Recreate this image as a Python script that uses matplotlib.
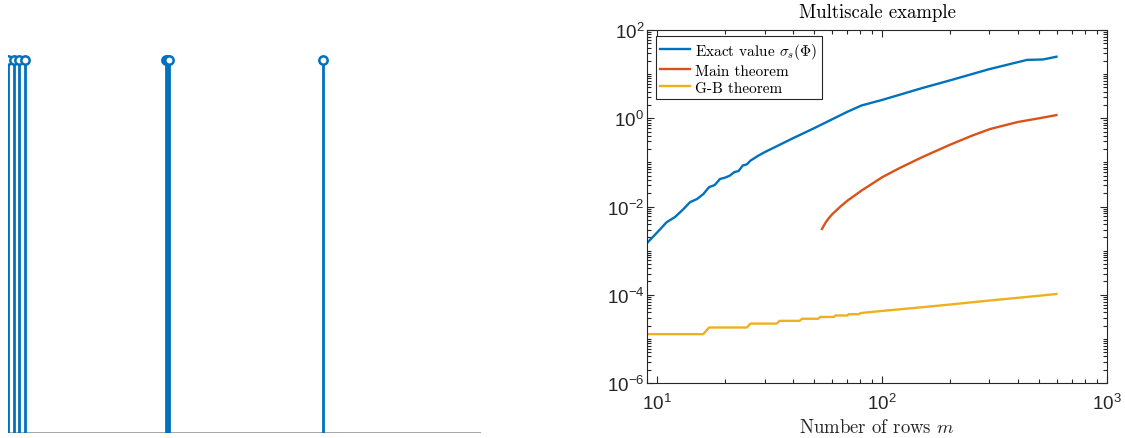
import numpy as np
import matplotlib
matplotlib.use("Agg")
import matplotlib.pyplot as plt
from matplotlib.font_manager import FontProperties
from matplotlib.ticker import FixedLocator, LogLocator, LogFormatterSciNotation, NullFormatter

# ---------------- data ----------------
# left panel: sparse vector (stem plot)
stem_n = 256
stem_idx = [1, 4, 7, 10, 86, 87, 88, 171]
stem_val = [1, 1, 1, 1, 1, 1, 1, 1]

# right panel: multiscale example
m_exact = [9, 10, 11, 12, 13, 14, 15, 16, 17, 18, 19, 20, 21, 22, 23, 24, 25, 26, 28, 30,
           40, 50, 60, 70, 81, 100, 150, 200, 300, 441, 520, 596]
v_exact = [1.48e-3, 2.6e-3, 4.4e-3, 5.8e-3, 8.5e-3, 0.0126, 0.0147, 0.019, 0.0275, 0.0306, 0.042,
           0.045, 0.05, 0.06, 0.064, 0.085, 0.09, 0.11, 0.14, 0.17,
           0.35, 0.6, 0.95, 1.4, 1.95, 2.6, 4.8, 7.2, 13.0, 21.0, 21.5, 24.8]

m_main = [54, 56, 58, 60, 65, 70, 81, 100, 120, 150, 200, 250, 302, 400, 500, 596]
v_main = [3.1e-3, 4.3e-3, 5.5e-3, 6.7e-3, 9.8e-3, 0.0135, 0.023, 0.046, 0.075, 0.13,
          0.25, 0.40, 0.57, 0.82, 1.0, 1.18]

m_gb = [9, 16, 17, 25, 26, 34, 35, 43, 44, 52, 53, 61, 62, 70, 71, 79, 80,
        100, 150, 200, 300, 400, 500, 596]
v_gb = [1.28e-5, 1.28e-5, 1.81e-5, 1.81e-5, 2.22e-5, 2.22e-5, 2.56e-5, 2.56e-5,
        2.86e-5, 2.86e-5, 3.14e-5, 3.14e-5, 3.39e-5, 3.39e-5, 3.62e-5, 3.62e-5, 3.84e-5,
        4.3e-5, 5.2e-5, 6.0e-5, 7.4e-5, 8.5e-5, 9.5e-5, 1.04e-4]

labels = [r'Exact value $\sigma_s(\Phi)$', 'Main theorem', 'G-B theorem']
title = 'Multiscale example'
xlabel = r'Number of rows $m$'
yticks = [1e-6, 1e-4, 1e-2, 1e0, 1e2]
xticks = [1e1, 1e2, 1e3]

# ---------------- style ----------------
plt.rcParams['mathtext.fontset'] = 'custom'
plt.rcParams['mathtext.rm'] = 'Liberation Sans'
plt.rcParams['mathtext.it'] = 'Liberation Sans:italic'
plt.rcParams['mathtext.bf'] = 'Liberation Sans:bold'
plt.rcParams['font.family'] = ['Liberation Sans', 'DejaVu Sans']

BLUE = '#0072BD'
ORANGE = '#D95319'
YELLOW = '#EDB120'
AX = '#262626'

fig = plt.figure(figsize=(11.25, 4.39), dpi=100)

# ---------------- left panel ----------------
axL = fig.add_axes([8 / 1125, 5 / 439, 473 / 1125, 403 / 439])
axL.axhline(0, color='#8c8c8c', lw=1.8, zorder=1)
mk, st, bl = axL.stem(stem_idx, stem_val)
bl.set_visible(False)
st.set_color(BLUE)
st.set_linewidth(2.0)
mk.set_color(BLUE)
mk.set_marker('o')
mk.set_markersize(6)
mk.set_markerfacecolor('white')
mk.set_markeredgewidth(1.8)
mk.set_zorder(3)
axL.set_xlim(1, stem_n)
axL.set_ylim(0, 1.081)
axL.axis('off')

# ---------------- right panel ----------------
axR = fig.add_axes([647 / 1125, 55 / 439, 460 / 1125, 353 / 439])
axR.plot(m_exact, v_exact, color=BLUE, lw=1.7, label=labels[0])
axR.plot(m_main, v_main, color=ORANGE, lw=1.7, label=labels[1])
axR.plot(m_gb, v_gb, color=YELLOW, lw=1.7, label=labels[2])
axR.set_xscale('log')
axR.set_yscale('log')
axR.set_xlim(9, 1000)
axR.set_ylim(1e-6, 1e2)

axR.xaxis.set_major_locator(FixedLocator(xticks))
axR.yaxis.set_major_locator(FixedLocator(yticks))
axR.xaxis.set_minor_locator(LogLocator(base=10, subs=np.arange(1, 10), numticks=100))
axR.yaxis.set_minor_locator(LogLocator(base=10, subs=np.arange(1, 10), numticks=100))
axR.xaxis.set_major_formatter(LogFormatterSciNotation())
axR.yaxis.set_major_formatter(LogFormatterSciNotation())
axR.xaxis.set_minor_formatter(NullFormatter())
axR.yaxis.set_minor_formatter(NullFormatter())
axR.tick_params(which='both', direction='in', top=True, right=True, colors=AX,
                labelsize=13.5, width=0.8)
axR.tick_params(which='major', length=5)
axR.tick_params(which='minor', length=3)
axR.tick_params(axis='x', pad=7)
axR.tick_params(axis='y', pad=2)
for s in axR.spines.values():
    s.set_color(AX)
    s.set_linewidth(0.8)

cm_title = FontProperties(family='cmr10', size=13.5, math_fontfamily='cm')
cm_label = FontProperties(family='cmr10', size=13.5, math_fontfamily='cm')
cm_leg = FontProperties(family='cmr10', size=11, math_fontfamily='cm')

axR.set_title(title, fontproperties=cm_title, color='black', pad=9)
axR.set_xlabel(xlabel, fontproperties=cm_label, color=AX, labelpad=4)

leg = axR.legend(loc='upper left', bbox_to_anchor=(0.019, 0.983), borderaxespad=0,
                 prop=cm_leg, frameon=True, fancybox=False, framealpha=1,
                 edgecolor=AX, handlelength=1.95, handletextpad=0.35,
                 labelspacing=0.22, borderpad=0.3)
leg.get_frame().set_linewidth(0.8)

fig.savefig('out.png', dpi=100)
